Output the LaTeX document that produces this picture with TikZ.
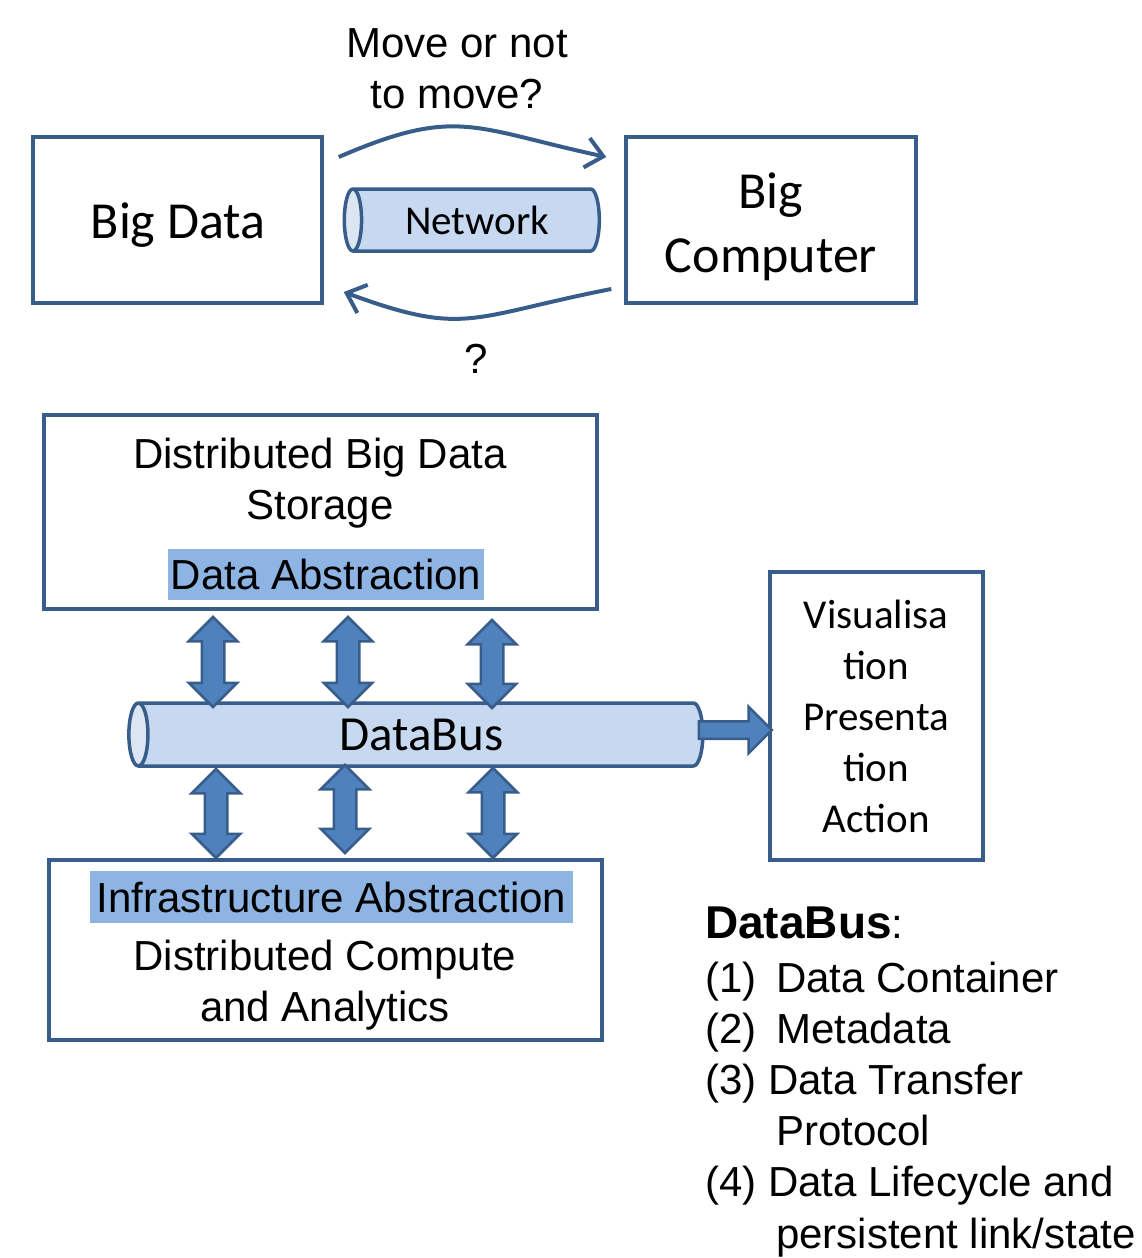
\documentclass[tikz,border=0pt]{standalone}
\usepackage{fontspec}
\setmainfont{Liberation Sans}
\newfontfamily\calfont{Carlito}
\usepackage{tikz}
\usetikzlibrary{shapes.geometric,shapes.arrows,arrows.meta}

\definecolor{lineblue}{HTML}{385D8A}
\definecolor{pipeblue}{HTML}{C6D9F1}
\definecolor{pipeface}{HTML}{DCE6F2}
\definecolor{hiliteblue}{HTML}{8EB4E3}
\definecolor{fillblue}{HTML}{4F81BD}

\begin{document}
\begin{tikzpicture}[x=1pt, y=-1pt,
  box/.style={rectangle, draw=lineblue, line width=3.5pt, inner sep=0pt},
  pipe/.style={cylinder, shape border rotate=180, aspect=0.6, draw=lineblue, line width=3.5pt,
    cylinder uses custom fill, cylinder body fill=pipeblue, cylinder end fill=pipeface, inner sep=0pt},
  hilite/.style={rectangle, fill=hiliteblue, inner sep=0pt},
  arialtxt/.style={font=\fontsize{42}{51}\selectfont, align=center, inner sep=0pt, anchor=base},
  caltxt/.style={font=\calfont\fontsize{41}{51}\selectfont, align=center, inner sep=0pt, anchor=base},
  link/.style={draw=lineblue, line width=4pt, -{Straight Barb[length=17pt, width=30pt]}},
  updown/.style={double arrow, rotate=90, draw=lineblue, fill=fillblue, line width=2.5pt,
    inner sep=10pt, double arrow head extend=13pt},
  pushright/.style={single arrow, draw=lineblue, fill=fillblue, line width=2.5pt,
    inner sep=7.5pt, single arrow head extend=14.5pt}]
\useasboundingbox (0,0) rectangle (1141,1258);

% top: data vs computer
\node[box, minimum width=289pt, minimum height=166pt] (bigdata) at (177.5,220) {};
\node[box, minimum width=290pt, minimum height=166pt] (bigcomp) at (771,220) {};
\node[caltxt, font=\calfont\fontsize{52}{64}\selectfont] (bigdatatxt) at (178,238) {Big Data};
\node[caltxt, font=\calfont\fontsize{52}{64}\selectfont] (bigcomptxt) at (771,272) {Big\\Computer};
\node[pipe, minimum height=255pt, minimum width=62pt, font=\calfont\fontsize{41}{51}\selectfont] (net) at (477,220) {Network};
\node[arialtxt] (movetxt) at (457,108) {Move or not\\to move?};
\node[arialtxt] (qmark) at (476,373) {?};

\coordinate (goA) at ([shift={(15,-63)}]bigdata.east);
\coordinate (goB) at ([shift={(-18,-63)}]bigcomp.west);
\coordinate (backA) at ([shift={(-13,69)}]bigcomp.west);
\coordinate (backB) at ([shift={(20,72)}]bigdata.east);
\draw[link] (goA) .. controls (457,106) and (472,128) .. (goB);
\draw[link] (backA) .. controls (469,317) and (466,337) .. (backB);

% bottom: databus
\node[box, minimum width=553pt, minimum height=194pt] (store) at (320.5,512) {};
\node[arialtxt] (storetxt) at (320,519) {Distributed Big Data\\Storage};
\node[hilite, minimum width=316pt, minimum height=51pt, font=\fontsize{42}{51}\selectfont] (dataabs) at (326,574) {Data Abstraction};

\node[pipe, minimum height=574pt, minimum width=63pt, font=\calfont\fontsize{49}{60}\selectfont] (bus) at (421.5,734.5) {DataBus};

\node[box, minimum width=553pt, minimum height=180pt] (infra) at (325.5,950) {};
\node[hilite, minimum width=483pt, minimum height=52pt, font=\fontsize{42}{51}\selectfont] (infraabs) at (331.5,897) {Infrastructure Abstraction};
\node[arialtxt] (infratxt) at (325,1021) {Distributed Compute\\and Analytics};

\node[box, minimum width=213pt, minimum height=288pt] (viz) at (876.5,716) {};
\node[caltxt] (viztxt) at (876,832) {Visualisa\\tion\\Presenta\\tion\\Action};

\foreach \x/\y/\len/\n in {213/662/90/su1, 348/662/90/su2, 492/664/88/su3,
                           216/813.5/89/sd1, 345/809/88/sd2, 493/813/90/sd3}
  \node[updown, minimum height=\len pt] (\n) at (\x,\y) {};
\node[pushright, minimum height=73pt] (toviz) at (731,730) {};

\node[inner sep=0pt, anchor=base west, align=left, font=\fontsize{42}{51.2}\selectfont] (legend) at (705,1248)
  {{\fontsize{46}{51}\selectfont\bfseries DataBus}:\\[2.8pt]
   \makebox[71pt][l]{(1)}Data Container\\
   \makebox[71pt][l]{(2)}Metadata\\
   (3) Data Transfer\\
   \hspace*{71pt}Protocol\\
   (4) Data Lifecycle and\\
   \hspace*{71pt}persistent link/state};
\end{tikzpicture}
\end{document}
